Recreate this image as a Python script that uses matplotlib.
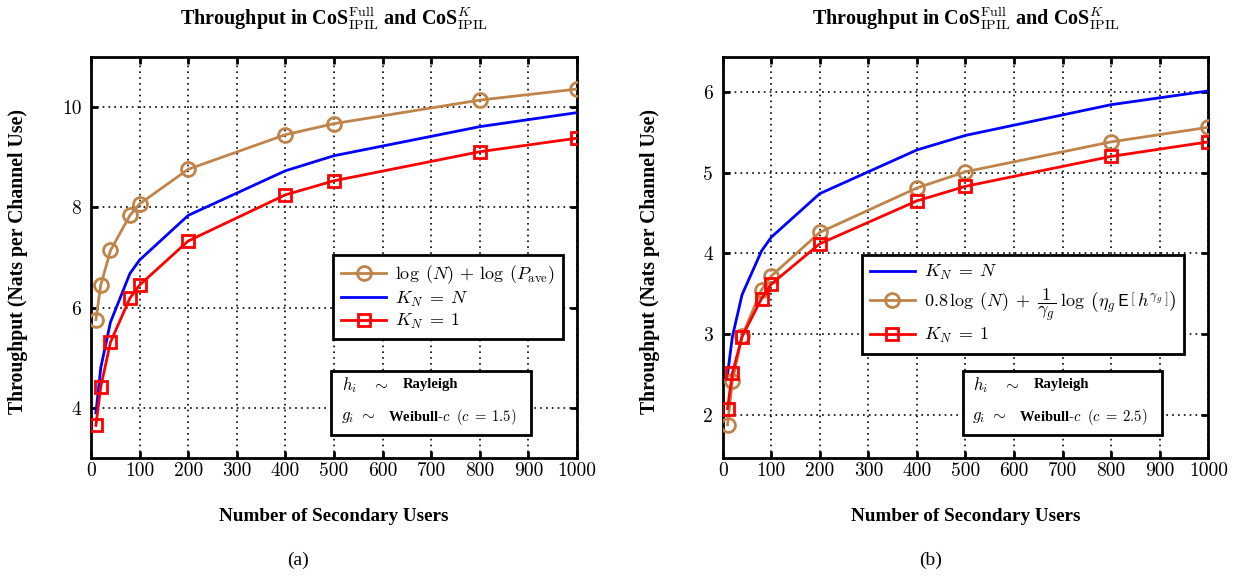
import numpy as np
import matplotlib
matplotlib.use("Agg")
import matplotlib.pyplot as plt
from matplotlib.patches import Rectangle

# Data
users = [10, 20, 40, 80, 100, 200, 400, 500, 800, 1000]

# (a) Weibull c = 1.5
a_approx = [5.76, 6.45, 7.14, 7.84, 8.07, 8.76, 9.45, 9.67, 10.14, 10.36]
a_full = [3.90, 4.80, 5.71, 6.68, 6.95, 7.84, 8.73, 9.03, 9.61, 9.89]
a_k1 = [3.65, 4.42, 5.31, 6.19, 6.45, 7.33, 8.25, 8.53, 9.11, 9.38]

# (b) Weibull c = 2.5
b_full = [2.50, 2.97, 3.49, 4.03, 4.20, 4.74, 5.28, 5.46, 5.84, 6.01]
b_approx = [1.88, 2.42, 2.98, 3.55, 3.72, 4.26, 4.81, 5.01, 5.38, 5.56]
b_k1 = [2.08, 2.52, 2.97, 3.44, 3.62, 4.12, 4.65, 4.83, 5.20, 5.38]

ORANGE = "#C0844A"
BLUE = "#0000FF"
RED = "#FF0000"

plt.rcParams["mathtext.fontset"] = "cm"
plt.rcParams["font.family"] = ["Liberation Serif", "DejaVu Serif"]

TITLE = r"Throughput in CoS$^{\rm Full}_{\rm IPIL}$ and CoS$^{K}_{\rm IPIL}$"
YLABEL = "Throughput (Nats per Channel Use)"
XLABEL = "Number of Secondary Users"


def style_axes(ax, ylim, yticks):
    ax.set_xlim(0, 1000)
    ax.set_ylim(*ylim)
    ax.set_xticks(np.arange(0, 1001, 100))
    ax.set_yticks(yticks)
    ax.grid(True, color="black", linestyle=(0, (1, 2.5)), linewidth=1.2, zorder=0)
    ax.tick_params(direction="in", length=5, width=2, top=True, right=True,
                   labelsize=14)
    ax.tick_params(axis="x", pad=3)
    ax.tick_params(axis="y", pad=7)
    for lab in ax.get_xticklabels() + ax.get_yticklabels():
        lab.set_fontfamily("cmr10")
    for sp in ax.spines.values():
        sp.set_linewidth(2)
    ax.text(0.5, 1.095, TITLE, transform=ax.transAxes, ha="center", va="center",
            fontsize=14.5, fontweight="bold")
    ax.set_xlabel(XLABEL, fontsize=13.8, fontweight="bold", va="center")
    ax.xaxis.set_label_coords(0.5, -0.145)
    ax.set_ylabel(YLABEL, fontsize=14.2, fontweight="bold", va="center")
    ax.yaxis.set_label_coords(-0.150, 0.49)


def info_box(ax, cval):
    ax.add_patch(Rectangle((0.494, 0.058), 0.411, 0.159, transform=ax.transAxes,
                           facecolor="white", edgecolor="black", linewidth=2,
                           zorder=5))
    ax.text(0.516, 0.182, r"$h_i\quad\sim$", transform=ax.transAxes,
            fontsize=12, va="center", zorder=6)
    ax.text(0.641, 0.182, "Rayleigh", transform=ax.transAxes, fontsize=10.5,
            fontweight="bold", va="center", zorder=6)
    ax.text(0.514, 0.103, r"$g_i\ \sim$", transform=ax.transAxes,
            fontsize=12, va="center", zorder=6)
    ax.text(0.611, 0.103, r"Weibull-$c$  $(c\;=\;%s)$" % cval,
            transform=ax.transAxes, fontsize=10.5, fontweight="bold",
            va="center", zorder=6)


def legend(ax, anchor):
    leg = ax.legend(loc="upper left", bbox_to_anchor=anchor, borderaxespad=0,
                    fontsize=13, handlelength=2.5, handletextpad=0.5,
                    borderpad=0.45, labelspacing=0.2, fancybox=False,
                    framealpha=1, edgecolor="black")
    leg.get_frame().set_linewidth(2)
    leg.set_zorder(7)


fig = plt.figure(figsize=(12.37, 5.76), dpi=100)
ax1 = fig.add_axes([0.0736, 0.2049, 0.3929, 0.6962])
ax2 = fig.add_axes([0.5842, 0.2049, 0.3926, 0.6962])

# (a)
ax1.plot(users, a_approx, color=ORANGE, lw=2, marker="o", ms=10, mfc="none",
         mew=2, label=r"$\log\;(N)\, +\, \log\;(P_{\rm ave})$", zorder=3)
ax1.plot(users, a_full, color=BLUE, lw=2, label=r"$K_N\;=\;N$", zorder=3)
ax1.plot(users, a_k1, color=RED, lw=2, marker="s", ms=9, mfc="none", mew=2,
         label=r"$K_N\;=\;1$", zorder=4)
style_axes(ax1, (3, 11), [4, 6, 8, 10])
legend(ax1, (0.498, 0.506))
info_box(ax1, "1.5")

# (b)
ax2.plot(users, b_full, color=BLUE, lw=2, label=r"$K_N\;=\;N$", zorder=3)
ax2.plot(users, b_approx, color=ORANGE, lw=2, marker="o", ms=10, mfc="none",
         mew=2,
         label=r"$0.8\,\log\;(N)\;+\;\dfrac{1}{\gamma_g}\;\log\;\left(\eta_g\,\mathsf{E}\,\left[\,h^{\gamma_g}\,\right]\right)$",
         zorder=3)
ax2.plot(users, b_k1, color=RED, lw=2, marker="s", ms=9, mfc="none", mew=2,
         label=r"$K_N\;=\;1$", zorder=4)
style_axes(ax2, (1.47, 6.43), [2, 3, 4, 5, 6])
legend(ax2, (0.286, 0.506))
info_box(ax2, "2.5")

fig.text(298 / 1237, 0.028, "(a)", ha="center", va="center", fontsize=14)
fig.text(931 / 1237, 0.028, "(b)", ha="center", va="center", fontsize=14)

fig.savefig("out.png", dpi=100)
